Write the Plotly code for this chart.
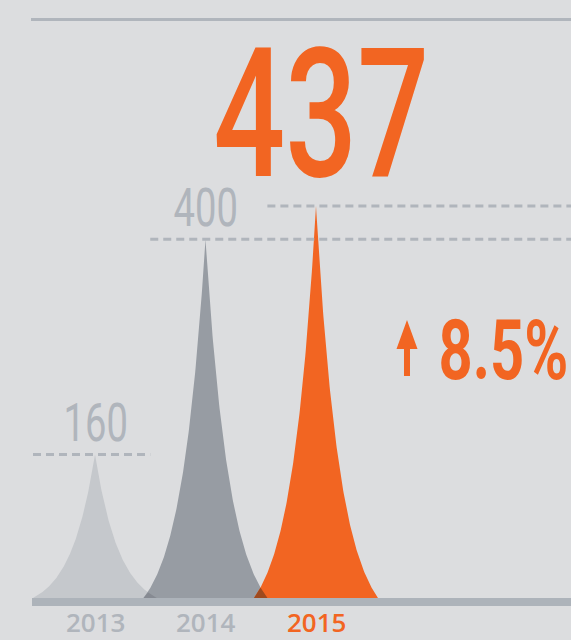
import json
import numpy as np
import plotly.graph_objects as go

# ---------------- data ----------------
years = ["2013", "2014", "2015"]
values = [160, 400, 437]
value_labels = ["160", "400", "437"]
change_label = "8.5%"

# ---------------- style ----------------
BG = "#dcdddf"
SPIKE_COLORS = ["#c5c8cc", "#979ca3", "#f26522"]
OVERLAP_COLORS = ["#868a92", "#9e4a1f"]
LINE_GRAY = "#b0b5bc"
LABEL_GRAY = "#b0b5bc"
ORANGE = "#f26522"
HALF_W = 0.561      # half base width of a spike, in category units
DECAY = 2.5         # curvature of spike flanks

W, H = 571, 640
BOTTOM_MARGIN = 34
PX_PER_UNIT = 0.897
BASE_PX = 598                       # pixel y of value 0
PLOT_H = H - BOTTOM_MARGIN          # 606
Y_MIN = -(PLOT_H - BASE_PX) / PX_PER_UNIT
Y_MAX = BASE_PX / PX_PER_UNIT
X_PX_PER_CAT = 110.5
X0_PX = 95
X_MIN = -X0_PX / X_PX_PER_CAT
X_MAX = (W - X0_PX) / X_PX_PER_CAT

xs = list(range(len(years)))


def spike(center, h, n=301):
    s = np.linspace(-1, 1, n)
    t = np.abs(s)
    f = (np.exp(-DECAY * t) - np.exp(-DECAY)) / (1 - np.exp(-DECAY))
    return center + HALF_W * s, h * f


def spike_at(center, h, x):
    t = np.clip(np.abs(x - center) / HALF_W, 0, 1)
    f = (np.exp(-DECAY * t) - np.exp(-DECAY)) / (1 - np.exp(-DECAY))
    return h * f


fig = go.Figure()
for i, (x, v) in enumerate(zip(xs, values)):
    sx, sy = spike(x, v)
    fig.add_trace(go.Scatter(x=sx, y=sy, mode="lines", line=dict(width=0, color=SPIKE_COLORS[i]),
                             fill="tozeroy", fillcolor=SPIKE_COLORS[i], hoverinfo="skip",
                             showlegend=False))

# darker overlap where neighbouring spikes cross
for i in range(len(xs) - 1):
    lo = xs[i + 1] - HALF_W
    hi = xs[i] + HALF_W
    if hi > lo:
        ox = np.linspace(lo, hi, 60)
        oy = np.minimum(spike_at(xs[i], values[i], ox), spike_at(xs[i + 1], values[i + 1], ox))
        fig.add_trace(go.Scatter(x=ox, y=oy, mode="lines", line=dict(width=0, color=OVERLAP_COLORS[i]),
                                 fill="tozeroy", fillcolor=OVERLAP_COLORS[i], hoverinfo="skip",
                                 showlegend=False))

shapes = []
# top rule
shapes.append(dict(type="line", xref="paper", yref="paper", x0=31 / W, x1=1,
                   y0=1 - 19.5 / PLOT_H, y1=1 - 19.5 / PLOT_H, line=dict(color=LINE_GRAY, width=3)))
# baseline bar
shapes.append(dict(type="rect", xref="paper", yref="y", x0=32 / W, x1=1, y0=Y_MIN, y1=0,
                   fillcolor="#adb3ba", line=dict(width=0), layer="above"))
# dashed reference lines
dash_starts = [xs[0] - HALF_W, xs[0] + 0.5, xs[1] + 0.56]
dash_ends = [xs[0] + 0.5, X_MAX, X_MAX]
for v, a, b in zip(values, dash_starts, dash_ends):
    shapes.append(dict(type="line", xref="x", yref="y", x0=a, x1=b, y0=v, y1=v,
                       line=dict(color=LINE_GRAY, width=3, dash="8px,5px"), layer="above"))

# up arrow icon (decoration), in pixel-derived paper coords
def pp(px, py):
    return px / W, 1 - py / PLOT_H
ax_c, a_top, a_head, a_bot, a_hw, a_sw = 407, 320, 349, 376, 10.5, 3
pts = [(ax_c, a_top), (ax_c + a_hw, a_head), (ax_c + a_sw, a_head), (ax_c + a_sw, a_bot),
       (ax_c - a_sw, a_bot), (ax_c - a_sw, a_head), (ax_c - a_hw, a_head)]
path = "M " + " L ".join(f"{pp(*p)[0]:.5f},{pp(*p)[1]:.5f}" for p in pts) + " Z"
shapes.append(dict(type="path", xref="paper", yref="paper", path=path,
                   fillcolor=ORANGE, line=dict(width=0)))

annotations = []
# value labels above 2013 / 2014 peaks
for i in range(2):
    annotations.append(dict(x=xs[i], y=values[i], xref="x", yref="y", text=value_labels[i],
                            showarrow=False, yanchor="middle", yshift=31,
                            font=dict(family="Roboto", size=53, color=LABEL_GRAY, weight=400)))
# big 2015 value
annotations.append(dict(x=xs[2], y=values[2], xref="x", yref="y", text=value_labels[2],
                        showarrow=False, yanchor="middle", yshift=92, xshift=5,
                        font=dict(family="Roboto", size=181, color=ORANGE, weight=500)))
# change label
annotations.append(dict(x=503 / W, y=1 - 350 / PLOT_H, xref="paper", yref="paper", text=change_label,
                        showarrow=False, xanchor="center", yanchor="middle",
                        font=dict(family="Roboto", size=84, color=ORANGE, weight=700)))
# year labels
for i, yr in enumerate(years):
    annotations.append(dict(x=xs[i], y=Y_MIN, xref="x", yref="y", text=yr, showarrow=False,
                            yanchor="middle", yshift=-16,
                            font=dict(family="Open Sans", size=26,
                                      color=ORANGE if i == 2 else LABEL_GRAY, weight=600)))

fig.update_layout(
    width=W, height=H,
    margin=dict(l=0, r=0, t=0, b=BOTTOM_MARGIN, pad=0),
    paper_bgcolor=BG, plot_bgcolor=BG,
    xaxis=dict(range=[X_MIN, X_MAX], visible=False, fixedrange=True),
    yaxis=dict(range=[Y_MIN, Y_MAX], visible=False, fixedrange=True),
    shapes=shapes, annotations=annotations, showlegend=False,
)

# horizontal condensing of the narrow display numerals
STRETCH = {"437": 0.70, "400": 0.72, "160": 0.72, "8.5%": 0.71}
post = """
document.body.style.margin = '0';
document.body.style.background = '%s';
var gd = document.getElementById('{plot_id}');
var sc = %s;
gd.querySelectorAll('text.annotation-text').forEach(function(t){
  var s = sc[t.textContent];
  if(!s) return;
  var b = t.getBBox();
  var cx = b.x + b.width/2;
  t.setAttribute('transform','translate('+cx+',0) scale('+s+',1) translate('+(-cx)+',0)');
});
""" % (BG, json.dumps(STRETCH))

fig.write_html("out.html", config=dict(displayModeBar=False, staticPlot=True), post_script=post)
